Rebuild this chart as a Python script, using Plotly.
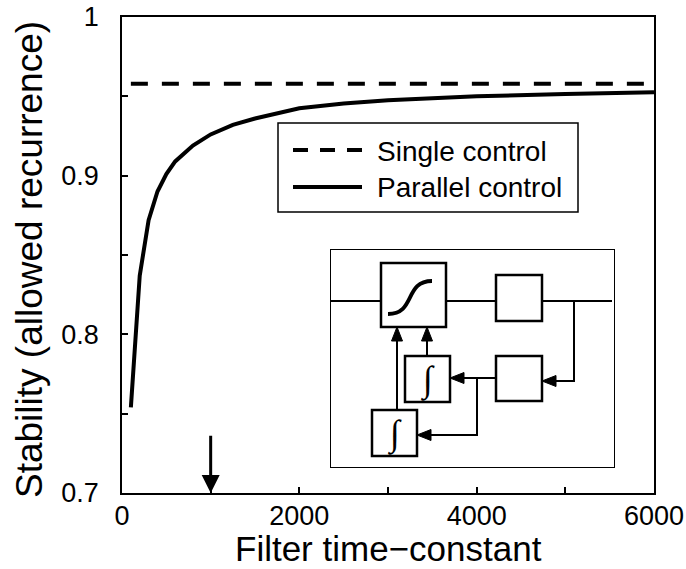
import plotly.graph_objects as go

# ---------------- data ----------------
filter_tc = [100, 200, 300, 400, 500, 600, 800, 1000, 1250, 1500, 2000, 2500,
             3000, 3500, 4000, 5000, 6000]
parallel_control = [0.754, 0.837, 0.872, 0.890, 0.901, 0.909, 0.919, 0.926, 0.932,
                    0.936, 0.9425, 0.9455, 0.9475, 0.949, 0.950, 0.9515, 0.9526]
single_tc = [100, 6000]
single_control = [0.958, 0.958]

x_ticks = [0, 2000, 4000, 6000]
x_tick_text = ["0", "2000", "4000", "6000"]
y_ticks = [0.7, 0.8, 0.9, 1.0]
y_tick_text = ["0.7", "0.8", "0.9", "1"]
marked_tc = 1000  # arrow marker position on x axis

# ---------------- layout geometry (screen pixels) ----------------
W, H = 686, 569
# plot area in screen pixels: x 122..654, y 17..493
SL, SR, ST, SB = 122, 654, 17, 493
ML, MT = SL, ST
MR, MB = W - SR, H - SB
PW, PH = SR - SL, SB - ST


def px(x, y):
    return (x - SL) / PW, (SB - y) / PH


fig = go.Figure()
fig.add_trace(go.Scatter(x=single_tc, y=single_control, mode="lines",
                         name="Single control",
                         line=dict(color="black", width=4, dash="17px,14px")))
fig.add_trace(go.Scatter(x=filter_tc, y=parallel_control, mode="lines",
                         name="Parallel control",
                         line=dict(color="black", width=4)))

shapes = []
annotations = []

# ---------------- manual legend ----------------
lx0, ly0 = px(278, 123)
lx1, ly1 = px(578, 212)
shapes.append(dict(type="rect", xref="paper", yref="paper", x0=lx0, y0=ly0, x1=lx1, y1=ly1,
                   line=dict(color="black", width=1.5), fillcolor="white", layer="above"))
for yy, dash, name in [(150, "15px,12px", "Single control"), (187, "solid", "Parallel control")]:
    a0 = px(293, yy)
    a1 = px(362, yy)
    shapes.append(dict(type="line", xref="paper", yref="paper", x0=a0[0], y0=a0[1],
                       x1=a1[0], y1=a1[1], line=dict(color="black", width=4, dash=dash),
                       layer="above"))
    t = px(375, yy + 1)
    annotations.append(dict(xref="paper", yref="paper", x=t[0], y=t[1], text=name,
                            showarrow=False, xanchor="left", yanchor="middle",
                            font=dict(size=28, color="black", family="Liberation Sans")))

# ---------------- axis titles ----------------
tx = px(388, 548)
annotations.append(dict(xref="paper", yref="paper", x=tx[0], y=tx[1],
                        text="Filter time−constant", showarrow=False,
                        xanchor="center", yanchor="middle",
                        font=dict(size=35, color="black", family="Liberation Sans")))
ty = px(29, 260)
annotations.append(dict(xref="paper", yref="paper", x=ty[0], y=ty[1],
                        text="Stability (allowed recurrence)", showarrow=False,
                        textangle=-90, xanchor="center", yanchor="middle",
                        font=dict(size=37, color="black", family="Liberation Sans")))

# ---------------- arrow at x = 1000 ----------------
annotations.append(dict(x=marked_tc, y=0.7, ax=marked_tc, ay=0.737, xref="x", yref="y",
                        axref="x", ayref="y", showarrow=True, arrowhead=2, arrowsize=1.2,
                        arrowwidth=3, arrowcolor="black", text=""))

# ---------------- inset block diagram (inset-local pixel frame) ----------------
IX0, IY0, IX1, IY1 = 330, 249, 615, 468
BOX = (0, 0, IX1 - IX0, IY1 - IY0)
BLOCKS = [(51, 14, 116, 78), (166, 26, 212, 72), (166, 107, 212, 152),
          (75, 107, 120, 153), (42, 161, 87, 207)]
INTEGRALS = [(97.5, 131), (64.5, 185)]
WIRES_PLAIN = [[(0, 52), (282, 52)]]
WIRES_ARROW = [
    [(244, 52), (244, 132), (212, 132)],
    [(166, 129), (120, 129)],
    [(147, 129), (147, 186), (87, 186)],
    [(67, 161), (67, 78)],
    [(97, 107), (97, 78)],
]

ref = dict(xref="x2", yref="y2")
shapes.append(dict(type="rect", x0=BOX[0], y0=BOX[1], x1=BOX[2], y1=BOX[3],
                   line=dict(color="black", width=2), fillcolor="white", layer="above", **ref))


def poly_path(pts):
    return "M " + " L ".join(f"{x},{y}" for x, y in pts)


for w in WIRES_PLAIN:
    shapes.append(dict(type="path", path=poly_path(w), line=dict(color="black", width=2),
                       layer="above", **ref))
for w in WIRES_ARROW:
    (x0, y0), (x1, y1) = w[-2], w[-1]
    d = ((x1 - x0), (y1 - y0))
    n = (d[0] ** 2 + d[1] ** 2) ** 0.5
    ux, uy = d[0] / n, d[1] / n
    L, Wd = 14, 11
    bx, by = x1 - L * ux, y1 - L * uy
    pts = list(w[:-1]) + [(bx, by)]
    shapes.append(dict(type="path", path=poly_path(pts), line=dict(color="black", width=2),
                       layer="above", **ref))
    c1 = (bx - uy * Wd / 2, by + ux * Wd / 2)
    c2 = (bx + uy * Wd / 2, by - ux * Wd / 2)
    shapes.append(dict(type="path", path=poly_path([(x1, y1), c1, c2]) + " Z",
                       line=dict(color="black", width=1), fillcolor="black",
                       layer="above", **ref))
for (a, b, c, d) in BLOCKS:
    shapes.append(dict(type="rect", x0=a, y0=b, x1=c, y1=d,
                       line=dict(color="black", width=2.5), fillcolor="white",
                       layer="above", **ref))
# sigmoid glyph inside the first block
shapes.append(dict(type="path", path="M 58,65 C 86,65 74,32 102,32",
                   line=dict(color="black", width=4), layer="above", **ref))
for (cx, cy) in INTEGRALS:
    annotations.append(dict(x=cx, y=cy, text="∫", showarrow=False, xanchor="center",
                            yanchor="middle", font=dict(size=36, color="black",
                                                        family="Liberation Serif"), **ref))

axis_common = dict(showline=True, mirror=True, linecolor="black", linewidth=1.5,
                   showgrid=False, zeroline=False, ticks="inside", ticklen=6,
                   tickwidth=1.5, tickcolor="black", automargin=False,
                   tickfont=dict(size=27, color="black", family="Liberation Sans"))

fig.update_layout(
    width=W, height=H,
    margin=dict(l=ML, r=MR, t=MT, b=MB, autoexpand=False),
    plot_bgcolor="white", paper_bgcolor="white",
    showlegend=False,
    font=dict(family="Liberation Sans", color="black"),
    xaxis=dict(range=[0, 6000], tickvals=x_ticks, ticktext=x_tick_text,
               minor=dict(tickvals=[1000, 3000, 5000], ticks="inside", ticklen=6,
                          tickwidth=1.5, tickcolor="black"),
               ticklabelstandoff=-2,
               **axis_common),
    yaxis=dict(range=[0.7, 1.0], tickvals=y_ticks, ticktext=y_tick_text,
               minor=dict(tickvals=[0.75, 0.85, 0.95], ticks="inside", ticklen=6,
                          tickwidth=1.5, tickcolor="black"),
               ticklabelstandoff=16,
               **axis_common),
    xaxis2=dict(domain=[(IX0 - SL) / PW, (IX1 - SL) / PW], range=[0, IX1 - IX0],
                anchor="y2", visible=False, fixedrange=True),
    yaxis2=dict(domain=[(SB - IY1) / PH, (SB - IY0) / PH], range=[IY1 - IY0, 0],
                anchor="x2", visible=False, fixedrange=True),
    shapes=shapes,
    annotations=annotations,
)

fig.write_html("out.html", config={"displayModeBar": False},
               post_script="document.body.style.margin='0';")
